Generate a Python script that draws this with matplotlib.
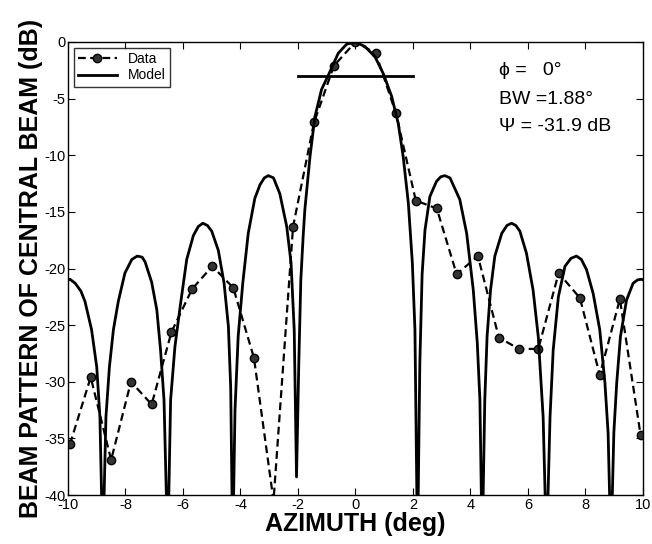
import matplotlib
matplotlib.use("Agg")
import matplotlib.pyplot as plt

plt.rcParams['font.family'] = ['Liberation Sans', 'DejaVu Sans']
plt.rcParams['axes.unicode_minus'] = False

# measured beam pattern (deg, dB)
data_az = [-9.93, -9.21, -8.5, -7.81, -7.09, -6.4, -5.68, -4.98, -4.25, -3.53,
           -2.85, -2.17, -1.44, -0.75, 0.0, 0.71, 1.41, 2.1, 2.83, 3.52,
           4.26, 4.99, 5.69, 6.36, 7.07, 7.81, 8.5, 9.2, 9.92]
data_db = [-35.5, -29.6, -36.9, -30.0, -32.0, -25.6, -21.8, -19.8, -21.7, -27.9,
           -40.5, -16.3, -7.1, -2.1, 0.0, -1.0, -6.3, -14.0, -14.7, -20.5,
           -18.9, -26.1, -27.1, -27.1, -20.4, -22.6, -29.4, -22.7, -34.7]

# model curve
model_az = [-10.0, -9.93, -9.75, -9.55, -9.41, -9.18, -9.0, -8.89, -8.79, -8.68,
            -8.56, -8.42, -8.25, -8.02, -7.78, -7.59, -7.42, -7.32, -7.09, -6.91,
            -6.78, -6.66, -6.53, -6.43, -6.28, -6.1, -5.87, -5.64, -5.47, -5.31,
            -5.15, -5.0, -4.77, -4.57, -4.42, -4.34, -4.27, -4.19, -4.08, -3.92,
            -3.73, -3.5, -3.32, -3.17, -3.03, -2.85, -2.63, -2.39, -2.24, -2.13,
            -2.05, -1.97, -1.9, -1.82, -1.76, -1.58, -1.41, -1.18, -0.92, -0.6,
            -0.31, 0.0, 0.33, 0.68, 0.97, 1.26, 1.49, 1.66, 1.84, 1.98,
            2.07, 2.16, 2.24, 2.32, 2.42, 2.59, 2.82, 2.97, 3.11, 3.29,
            3.63, 3.87, 4.1, 4.24, 4.33, 4.41, 4.5, 4.58, 4.7, 4.85,
            5.09, 5.27, 5.43, 5.58, 5.72, 5.95, 6.18, 6.36, 6.53, 6.65,
            6.77, 6.88, 7.06, 7.29, 7.5, 7.69, 7.86, 8.04, 8.27, 8.5,
            8.68, 8.79, 8.89, 8.99, 9.09, 9.22, 9.43, 9.66, 9.82, 9.95, 10.0]
model_db = [-21.0, -20.95, -21.3, -22.0, -22.9, -25.4, -28.7, -33.1, -45.0, -33.1,
            -28.7, -25.4, -22.9, -20.4, -19.2, -18.9, -19.0, -19.4, -21.2, -23.65,
            -27.2, -31.6, -45.0, -31.6, -26.9, -23.4, -19.2, -17.1, -16.3, -16.0,
            -16.2, -16.7, -18.4, -21.3, -25.1, -30.5, -45.0, -32.5, -26.0, -21.3,
            -16.9, -13.8, -12.6, -12.0, -11.8, -12.0, -13.4, -16.3, -19.5, -25.4,
            -38.4, -28.3, -21.0, -17.2, -14.8, -10.1, -6.6, -4.2, -2.8, -1.0,
            -0.2, 0.0, -0.4, -1.3, -2.8, -4.8, -7.2, -10.1, -14.2, -19.5,
            -25.4, -45.0, -28.4, -20.5, -16.6, -13.65, -12.3, -11.9, -11.8, -12.0,
            -13.9, -16.9, -21.9, -26.6, -31.6, -45.0, -31.6, -26.0, -21.9, -18.9,
            -16.9, -16.2, -16.0, -16.2, -16.7, -18.65, -21.9, -26.0, -33.1, -45.0,
            -33.1, -27.2, -22.5, -19.8, -19.1, -18.9, -19.2, -20.1, -22.2, -25.4,
            -30.1, -34.5, -45.0, -34.5, -30.1, -26.0, -22.8, -21.3, -21.0, -20.95, -21.0]

# -3 dB reference line
bw_az = [-2.0, 2.0]
bw_db = [-3.0, -3.0]

xticks = [-10, -8, -6, -4, -2, 0, 2, 4, 6, 8, 10]
yticks = [0, -5, -10, -15, -20, -25, -30, -35, -40]

fig = plt.figure(figsize=(6.52, 5.44), dpi=100)
ax = fig.add_axes([0.1043, 0.090, 0.8817, 0.8328])

ax.plot(data_az, data_db, '--o', color='black', lw=1.6, dashes=(3.5, 2),
        markersize=6, markerfacecolor='#333333', markeredgecolor='black',
        label='Data')
ax.plot(model_az, model_db, '-', color='black', lw=2.0, label='Model')
ax.plot(bw_az, bw_db, '-', color='black', lw=2.0)

ax.set_xlim(-10, 10)
ax.set_ylim(-40, 0)
ax.set_xticks(xticks)
ax.set_yticks(yticks)
ax.tick_params(direction='in', top=True, right=True, labelsize=10.5, length=5, pad=2)
for s in ax.spines.values():
    s.set_linewidth(1.0)

ax.set_xlabel('AZIMUTH (deg)', fontsize=18, fontweight='bold', labelpad=0)
ax.set_ylabel('BEAM PATTERN OF CENTRAL BEAM (dB)', fontsize=18, fontweight='bold', labelpad=1)

leg = ax.legend(loc='upper left', fontsize=10, frameon=True, fancybox=False,
                borderaxespad=0.4, handlelength=2.8, borderpad=0.3,
                labelspacing=0.2, handletextpad=0.8)
leg.get_frame().set_edgecolor('black')
leg.get_frame().set_linewidth(1.0)

ax.text(5.0, -2.5, '\u03d5 =   0\u00b0', fontsize=14, va='center', ha='left')
ax.text(5.0, -5.1, 'BW =1.88\u00b0', fontsize=14, va='center', ha='left')
ax.text(5.0, -7.5, '\u03a8 = -31.9 dB', fontsize=14, va='center', ha='left')

fig.savefig('out.png', dpi=100)
